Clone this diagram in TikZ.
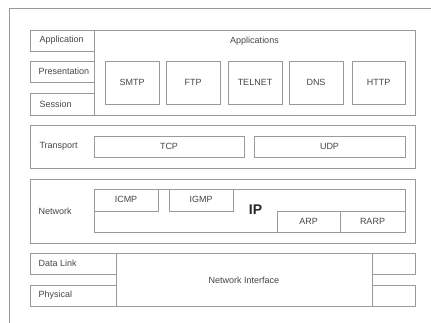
\documentclass[tikz,border=0pt]{standalone}
\usepackage{fontspec}
\setmainfont{Liberation Sans}
\usepackage{tikz}
\usetikzlibrary{calc, positioning}
\definecolor{boxline}{HTML}{9A9A9A}
\definecolor{boxtext}{HTML}{454545}
\newcommand{\drawb}{\draw[line width=.8pt, color=boxline]}

\begin{document}
\begin{tikzpicture}[x=1pt, y=-1pt, font=\fontsize{9}{11}\selectfont, text=boxtext]
\useasboundingbox (0,0) rectangle (431,323);
%\draw[color=blue] (0,0) grid[step=20] (431,323); %lưới
% Khung ngoài
\drawb (9,323) -- (9,8) -- (431,8);

% Application, Presentation, Session
\drawb (30,30) rectangle (94,51);
\drawb (30,61) rectangle (94,82);
\drawb (30,93) rectangle (94,115);
\drawb (94,30) rectangle (415,115);
\draw (36,40.5) node[anchor=west] (app) {Application};
\draw (35,71.5) node[anchor=west] (pres) {Presentation};
\draw (36,104) node[anchor=west] (sess) {Session};
\draw (254.5,41) node (apps) {Applications};

\drawb (105,61) rectangle (159,104);
\drawb (166,61) rectangle (220,104);
\drawb (228,61) rectangle (282,104);
\drawb (289,61) rectangle (343,104);
\drawb (352,61) rectangle (405,104);
\draw (132,82.5) node (smtp) {SMTP};
\draw (193,82.5) node (ftp) {FTP};
\draw (255,82.5) node (telnet) {TELNET};
\draw (316,82.5) node (dns) {DNS};
\draw (378.5,82.5) node (http) {HTTP};

% Transport
\drawb (30,125) rectangle (415,168);
\drawb (94,136) rectangle (244,157);
\drawb (254,136) rectangle (405,157);
\draw (36,146.5) node[anchor=west] (trans) {Transport};
\draw (169,146.5) node (tcp) {TCP};
\draw (329.5,146.5) node (udp) {UDP};

% Network
\drawb (30,179) rectangle (415,243);
\drawb (94,189) rectangle (405,232);
\drawb (94,189) rectangle (158,211);
\drawb (169,189) rectangle (233,211);
\drawb (277,211) rectangle (340,232);
\drawb (340,211) rectangle (405,232);
\draw (35,211) node[anchor=west] (net) {Network};
\draw (126,199.5) node (icmp) {ICMP};
\draw (201,199.5) node (igmp) {IGMP};
\draw (255.5,210) node[font=\fontsize{14}{16}\selectfont\bfseries, text=black!85] (ip) {IP};
\draw (308.5,221.5) node (arp) {ARP};
\draw (372.5,221.5) node (rarp) {RARP};

% Data Link, Physical
\drawb (30,253) rectangle (116,274);
\drawb (30,285) rectangle (116,306);
\drawb (116,253) rectangle (372,306);
\drawb (372,253) rectangle (415,274);
\drawb (372,285) rectangle (415,306);
\draw (35,263.5) node[anchor=west] (dl) {Data Link};
\draw (35,295.5) node[anchor=west] (phy) {Physical};
\draw (244,280) node (nif) {Network Interface};

\end{tikzpicture}
\end{document}
